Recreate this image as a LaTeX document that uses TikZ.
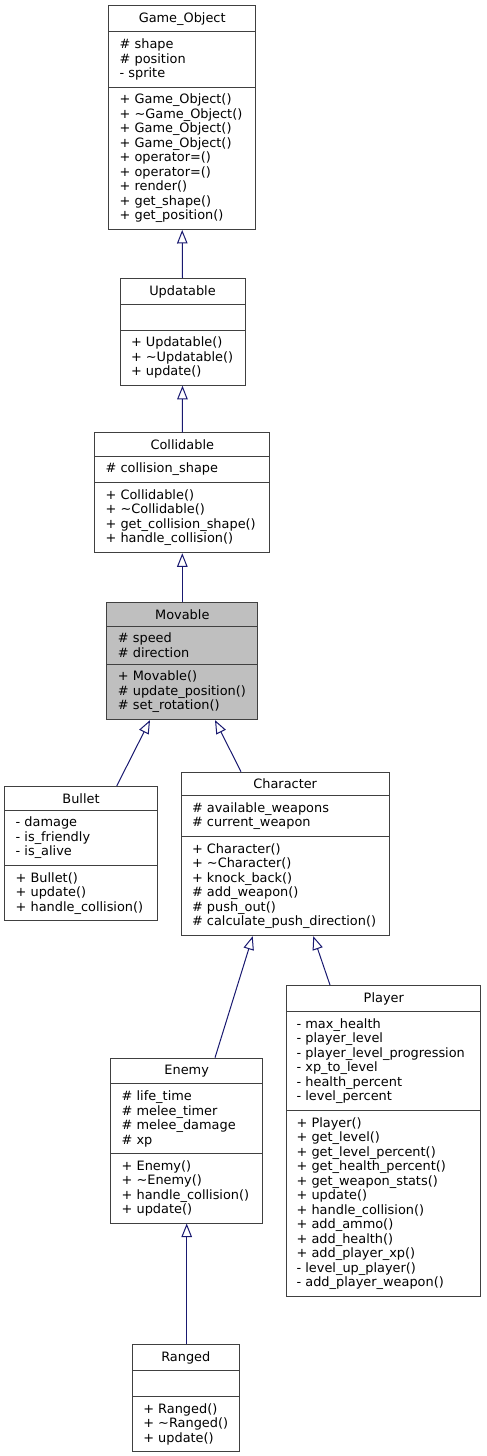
\documentclass[tikz,border=0pt]{standalone}
\usepackage{fontspec}
\setmainfont{DejaVu Sans}
\usepackage{tikz}
\usetikzlibrary{arrows.meta, shapes.multipart}

\definecolor{edgeblue}{HTML}{191970}
\definecolor{boxline}{HTML}{404040}
\definecolor{hilite}{HTML}{BFBFBF}

\tikzset{
	cls/.style={rectangle split, rectangle split parts=3, draw=boxline, line width=1pt, fill=white,
		align=left, anchor=north, inner xsep=11pt, inner ysep=6.3pt,
		rectangle split part align={center, left, left},
		rectangle split empty part height=12pt,
		font=\fontsize{12.9}{14.5}\selectfont},
	inh/.style={->, draw=edgeblue, line width=1pt},
}

\begin{document}
\begin{tikzpicture}[x=1pt, y=-1pt, >={Triangle[open, length=13.5pt, width=10.5pt, line width=1pt]}]
			\useasboundingbox (0,0) rectangle (487,1456);

			\node[cls, minimum width=147pt] (gameobj) at (182.2,5) {Game\_Object
				\nodepart{second}\# shape\\\# position\\- sprite
				\nodepart{third}+ Game\_Object()\\+ \textasciitilde Game\_Object()\\+ Game\_Object()\\+ Game\_Object()\\+ operator=()\\+ operator=()\\+ render()\\+ get\_shape()\\+ get\_position()};

			\node[cls, minimum width=125pt] (updatable) at (182.5,278) {Updatable
				\nodepart{second}
				\nodepart{third}+ Updatable()\\+ \textasciitilde Updatable()\\+ update()};

			\node[cls, minimum width=175.3pt] (collidable) at (182.3,432.3) {Collidable
				\nodepart{second}\# collision\_shape
				\nodepart{third}+ Collidable()\\+ \textasciitilde Collidable()\\+ get\_collision\_shape()\\+ handle\_collision()};

			\node[cls, minimum width=150.7pt, fill=hilite] (movable) at (182.3,602) {Movable
				\nodepart{second}\# speed\\\# direction
				\nodepart{third}+ Movable()\\\# update\_position()\\\# set\_rotation()};

			\node[cls, minimum width=152.6pt] (bullet) at (81,786) {Bullet
				\nodepart{second}- damage\\- is\_friendly\\- is\_alive
				\nodepart{third}+ Bullet()\\+ update()\\+ handle\_collision()};

			\node[cls, minimum width=208.3pt] (character) at (285.2,771.7) {Character
				\nodepart{second}\# available\_weapons\\\# current\_weapon
				\nodepart{third}+ Character()\\+ \textasciitilde Character()\\+ knock\_back()\\\# add\_weapon()\\\# push\_out()\\\# calculate\_push\_direction()};

			\node[cls, minimum width=194.3pt, inner xsep=10pt] (player) at (383.8,985) {Player
				\nodepart{second}- max\_health\\- player\_level\\- player\_level\_progression\\- xp\_to\_level\\- health\_percent\\- level\_percent
				\nodepart{third}+ Player()\\+ get\_level()\\+ get\_level\_percent()\\+ get\_health\_percent()\\+ get\_weapon\_stats()\\+ update()\\+ handle\_collision()\\+ add\_ammo()\\+ add\_health()\\+ add\_player\_xp()\\- level\_up\_player()\\- add\_player\_weapon()};

			\node[cls, minimum width=152pt] (enemy) at (186.7,1057.7) {Enemy
				\nodepart{second}\# life\_time\\\# melee\_timer\\\# melee\_damage\\\# xp
				\nodepart{third}+ Enemy()\\+ \textasciitilde Enemy()\\+ handle\_collision()\\+ update()};

			\node[cls, minimum width=107pt] (ranged) at (185.8,1344.3) {Ranged
				\nodepart{second}
				\nodepart{third}+ Ranged()\\+ \textasciitilde Ranged()\\+ update()};

			\draw[inh] (updatable.north) -- (gameobj.south);
			\draw[inh] (collidable.north) -- (updatable.south);
			\draw[inh] (movable.north) -- (collidable.south);
			\draw[inh] ([xshift=35.7pt]bullet.north) -- ([xshift=-32.3pt]movable.south);
			\draw[inh] ([xshift=-44.2pt]character.north) -- ([xshift=32.7pt]movable.south);
			\draw[inh] ([xshift=28.3pt]enemy.north) -- ([xshift=-32.5pt]character.south);
			\draw[inh] ([xshift=-53.8pt]player.north) -- ([xshift=28.1pt]character.south);
			\draw[inh] (ranged.north -| enemy.south) -- (enemy.south);
		\end{tikzpicture}
\end{document}
